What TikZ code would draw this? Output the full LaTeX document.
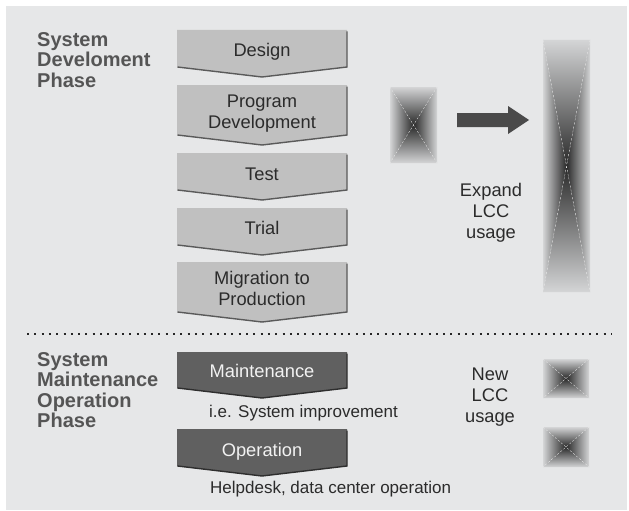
\documentclass[tikz,border=0pt]{standalone}
\usepackage{fontspec}
\setmainfont{Liberation Sans}
\usetikzlibrary{positioning}
\definecolor{bgcol}{HTML}{E6E7E8}
\definecolor{lightfill}{HTML}{C0C0C0}
\definecolor{lightedge}{HTML}{5A5A5A}
\definecolor{darkfill}{HTML}{606060}
\definecolor{darkedge}{HTML}{2E2E2E}
\definecolor{labelcol}{HTML}{555555}
\definecolor{txtcol}{HTML}{2B2B2B}
\definecolor{arrowcol}{HTML}{4A4A4A}
\definecolor{lccedge}{HTML}{D4D5D6}
\definecolor{lcccore}{HTML}{2A2A2A}
\newcommand{\boxfont}{\fontsize{18.3}{21}\selectfont}
\newcommand{\phasefont}{\bfseries\fontsize{20}{20.4}\selectfont}
% chevron: top, side bottom, fill, edge
\newcommand{\stepshape}[4]{%
  \fill[#3](177,#1)--(347,#1)--(347,#2)--(262,#2+10)--(177,#2)--cycle;
  \draw[#4,line width=1.4pt](177.5,#2)--(262,#2+10)--(347,#2)--(347,#1+1.5);}
% pyramid shaded box: name, x1, y1, x2, y2
\newcommand{\lccbox}[5]{%
  \coordinate (#1) at ({(#2+#4)/2},{(#3+#5)/2});
  \shade[top color=lccedge,bottom color=lcccore](#2,#3)--(#4,#3)--(#1)--cycle;
  \shade[bottom color=lccedge,top color=lcccore](#2,#5)--(#4,#5)--(#1)--cycle;
  \shade[left color=lccedge,right color=lcccore](#2,#3)--(#2,#5)--(#1)--cycle;
  \shade[right color=lccedge,left color=lcccore](#4,#3)--(#4,#5)--(#1)--cycle;
  \draw[seam](#2,#3)--(#4,#5)(#4,#3)--(#2,#5);}
\tikzset{
  lighttxt/.style={txtcol,font=\boxfont,align=center,inner sep=0pt},
  darktxt/.style={white!95!black,font=\boxfont,align=center,inner sep=0pt},
  phase/.style={labelcol,font=\phasefont,align=left,anchor=north west,inner sep=0pt},
  note/.style={txtcol,font=\fontsize{17}{20}\selectfont,anchor=base west,inner sep=0pt},
  seam/.style={white!85!gray,line width=0.3pt,dash pattern=on 2pt off 2pt}
}
\begin{document}
\begin{tikzpicture}[x=1pt,y=-1pt]
\useasboundingbox(0,0)rectangle(629,511);
\fill[bgcol](6,6)rectangle(627,510);

% development phase
\node[phase](devphase)at(37,32.4){System\\Develoment\\Phase};
\stepshape{30}{67}{lightfill}{lightedge}
\stepshape{85}{135}{lightfill}{lightedge}
\stepshape{153}{190}{lightfill}{lightedge}
\stepshape{208}{245}{lightfill}{lightedge}
\stepshape{262}{312}{lightfill}{lightedge}
\node[lighttxt,anchor=base](design)at(262,56.7){Design};
\node[lighttxt](progdev)at(262,113.5){Program\\Development};
\node[lighttxt,anchor=base](test)at(262,180){Test};
\node[lighttxt,anchor=base](trial)at(262,234){Trial};
\node[lighttxt](migration)at(262,288.5){Migration to\\Production};

\lccbox{lccsmall}{390}{87}{437}{163}
\fill[arrowcol](457,113)--(508,113)--(508,106)--(529,120)--(508,134)--(508,127)--(457,127)--cycle;
\lccbox{lcctall}{543}{40}{590}{292}
\node[lighttxt,anchor=north](expand)at(491,182.7){Expand\\LCC\\usage};

\draw[black!85,line width=2pt,dash pattern=on 2pt off 5.3pt](27,334)--(612,334);

% maintenance / operation phase
\node[phase](mainphase)at(37,352.4){System\\Maintenance\\Operation\\Phase};
\stepshape{352}{388}{darkfill}{darkedge}
\stepshape{429}{466}{darkfill}{darkedge}
\node[darktxt,anchor=base](maintenance)at(262,377){Maintenance};
\node[darktxt,anchor=base](operation)at(262,456.5){Operation};
\node[note](improve)at(209,417){i.e. System improvement};
\node[note](helpdesk)at(210,493){Helpdesk, data center operation};

\node[lighttxt,anchor=north](newlcc)at(490,368){New\\LCC\\usage};
\lccbox{lccnewa}{543}{359}{589}{398}
\lccbox{lccnewb}{543}{427}{589}{467}
\end{tikzpicture}
\end{document}
